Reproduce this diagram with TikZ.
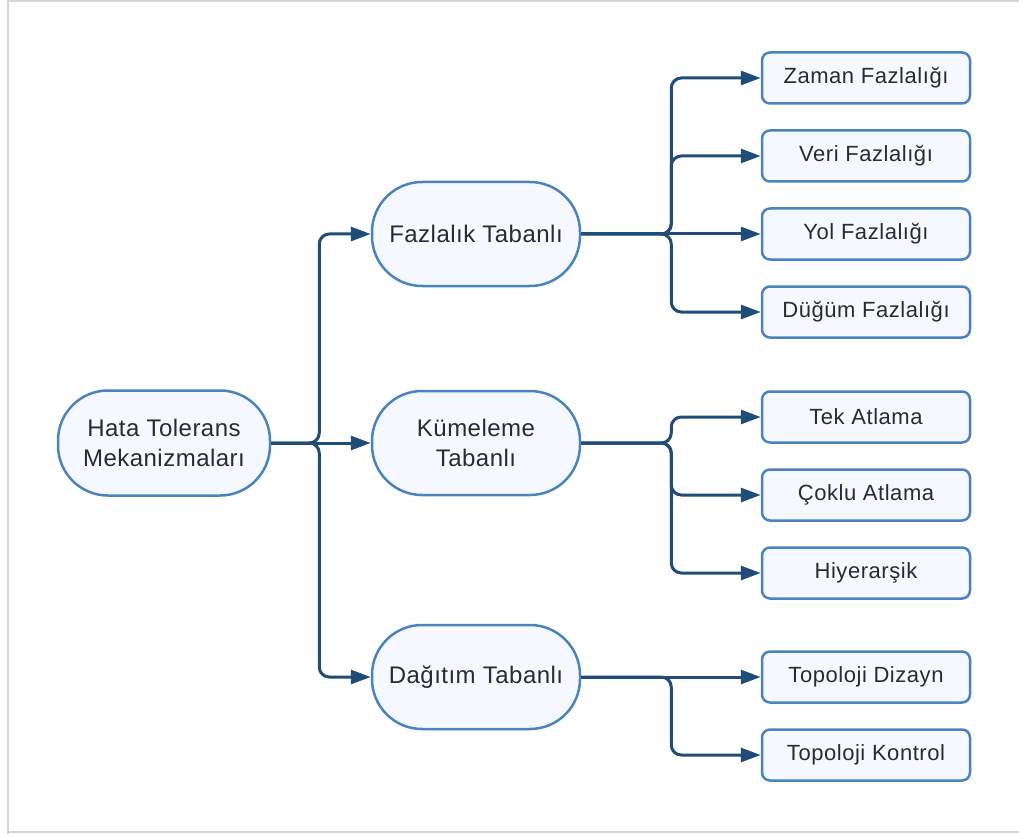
\documentclass[tikz,border=0pt]{standalone}
\usepackage{fontspec}
\setmainfont{Liberation Sans}
\usetikzlibrary{arrows.meta}
\definecolor{edge}{HTML}{1F4D78}
\definecolor{boxline}{HTML}{4A83BD}
\definecolor{boxfill}{HTML}{F5F9FF}
\definecolor{txt}{HTML}{2B2B2B}
\definecolor{framegray}{HTML}{D6D6D6}
\begin{document}
\begin{tikzpicture}[x=1pt,y=-1pt,
  pill/.style={draw=boxline, fill=boxfill, line width=2.5pt, rounded corners=50pt,
    minimum width=208pt, minimum height=104pt, align=center, text=txt,
    font=\fontsize{24}{30}\selectfont\addfontfeatures{LetterSpace=2}, inner sep=0pt},
  leaf/.style={draw=boxline, fill=boxfill, line width=2.5pt, rounded corners=8pt,
    minimum width=208pt, minimum height=51pt, text=txt,
    font=\fontsize{22}{26}\selectfont\addfontfeatures{LetterSpace=2.5}, inner sep=0pt},
  conn/.style={draw=edge, line width=3pt, rounded corners=10pt,
    -{Triangle[length=20pt,width=14pt]}},
]
\useasboundingbox (0,0) rectangle (1019,834);
% page frame
\draw[framegray, line width=2pt] (7.5,834) -- (7.5,1) -- (1019,1);
\draw[framegray, line width=2pt] (7.5,832) -- (1019,832);

% root and categories
\node[pill, minimum width=212pt, minimum height=105pt] (root) at (164,443) {Hata Tolerans\\Mekanizmaları};
\node[pill] (fz) at (476,234) {Fazlalık Tabanlı};
\node[pill] (km) at (476,443) {Kümeleme\\Tabanlı};
\node[pill] (dg) at (476,677) {Dağıtım Tabanlı};

% leaves
\node[leaf] (zf) at (866,78)  {Zaman Fazlalığı};
\node[leaf] (vf) at (866,156) {Veri Fazlalığı};
\node[leaf] (yf) at (866,234) {Yol Fazlalığı};
\node[leaf] (df) at (866,312) {Düğüm Fazlalığı};
\node[leaf] (ta) at (866,417) {Tek Atlama};
\node[leaf] (ca) at (866,495) {Çoklu Atlama};
\node[leaf] (hy) at (866,573) {Hiyerarşik};
\node[leaf] (td) at (866,677) {Topoloji Dizayn};
\node[leaf] (tk) at (866,755) {Topoloji Kontrol};

% root connectors
\draw[conn] (root.east) -- ++(48,0) |- (fz.west);
\draw[conn] (root.east) -- (km.west);
\draw[conn] (root.east) -- ++(48,0) |- (dg.west);

% redundancy branch
\draw[conn] (fz.east) -- ++(90,0) |- (zf.west);
\draw[conn] (fz.east) -- ++(90,0) |- (vf.west);
\draw[conn] (fz.east) -- (yf.west);
\draw[conn] (fz.east) -- ++(90,0) |- (df.west);

% clustering branch
\draw[conn] (km.east) -- ++(90,0) |- (ta.west);
\draw[conn] (km.east) -- ++(90,0) |- (ca.west);
\draw[conn] (km.east) -- ++(90,0) |- (hy.west);

% distribution branch
\draw[conn] (dg.east) -- (td.west);
\draw[conn] (dg.east) -- ++(90,0) |- (tk.west);
\end{tikzpicture}
\end{document}
